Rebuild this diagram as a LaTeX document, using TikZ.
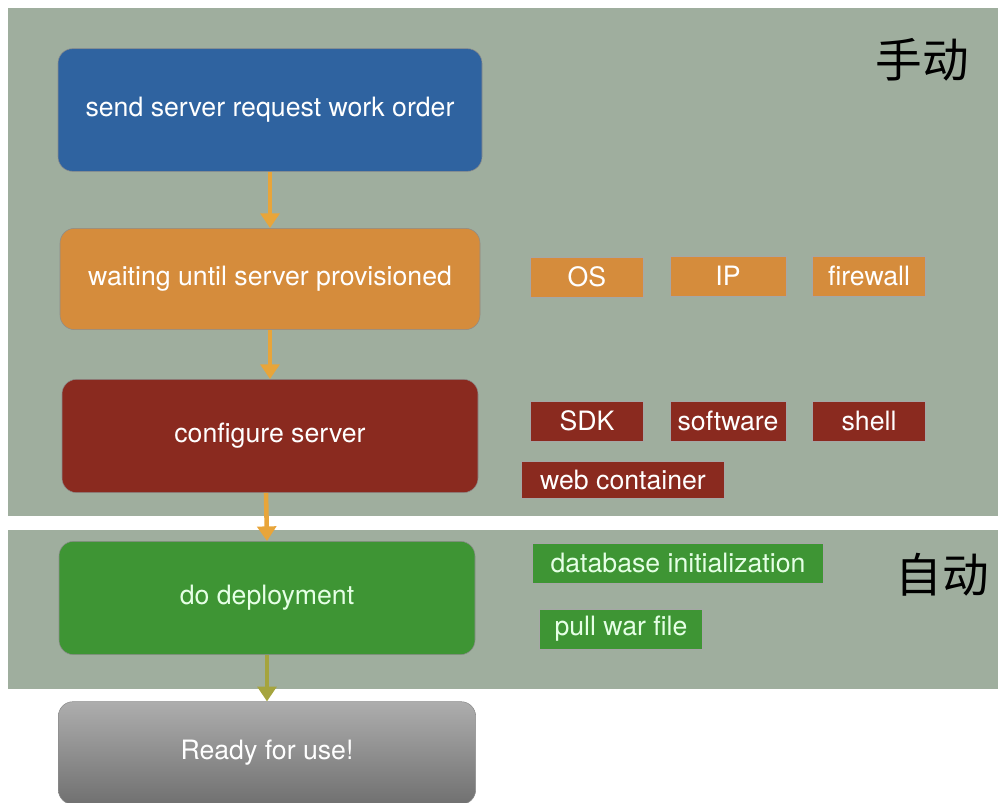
\documentclass[tikz,border=0pt]{standalone}
\usepackage{fontspec}
\setmainfont{TeX Gyre Heros}
\newfontfamily\cjk{Noto Sans CJK SC}
\usetikzlibrary{arrows.meta}

\definecolor{panelgray}{HTML}{9FAE9E}
\definecolor{stepblue}{HTML}{2F63A0}
\definecolor{steporange}{HTML}{D58C3C}
\definecolor{stepred}{HTML}{8A2A1F}
\definecolor{stepgreen}{HTML}{3E9534}
\definecolor{arrowor}{HTML}{E8A53A}
\definecolor{arrowol}{HTML}{A5A43E}

\tikzset{
 stepbox/.style={rounded corners=11pt, draw=black!45, line width=.4pt, text=white,
   minimum width=314pt, minimum height=80pt, font=\fontsize{20}{24}\selectfont},
 tagbox/.style={draw=black!35, line width=.3pt, text=white, minimum height=30pt,
   inner sep=0pt, font=\fontsize{20}{24}\selectfont},
 flow/.style={-{Triangle[length=11pt,width=14pt]}, line width=3.4pt, arrowor}
}

\begin{document}
\begin{tikzpicture}[x=0.75pt,y=-0.75pt]
\useasboundingbox (0,0) rectangle (998,802);
% panels
\fill[panelgray] (8,8) rectangle (998,516);
\fill[panelgray] (8,530) rectangle (998,689);
\node[font=\cjk\fontsize{35}{40}\selectfont] (manual) at (922,60) {手动};
\node[font=\cjk\fontsize{35}{40}\selectfont] (auto) at (942,575) {自动};

% main steps
\node[stepbox, fill=stepblue, minimum height=92pt, minimum width=318pt] (order) at (270,110) {send server request work order};
\node[stepbox, fill=steporange, minimum height=76pt, minimum width=315pt] (wait) at (270,279) {waiting until server provisioned};
\node[stepbox, fill=stepred, minimum height=85pt, minimum width=312pt] (config) at (270,436) {configure server};
\node[stepbox, fill=stepgreen, text=green!10!white, minimum height=85pt, minimum width=312pt] (deploy) at (267,598) {do deployment};
\node[stepbox, top color=black!32, bottom color=black!56, minimum height=77pt, minimum width=313pt] (ready) at (267,753) {Ready for use!};

% details
\node[tagbox, fill=steporange, minimum width=85pt] (os) at (587,277) {OS};
\node[tagbox, fill=steporange, minimum width=87pt] (ip) at (728,276) {IP};
\node[tagbox, fill=steporange, minimum width=85pt] (fw) at (869,276) {firewall};
\node[tagbox, fill=stepred, minimum width=85pt] (sdk) at (587,421) {SDK};
\node[tagbox, fill=stepred, minimum width=87pt] (soft) at (728,421) {software};
\node[tagbox, fill=stepred, minimum width=85pt] (shell) at (869,421) {shell};
\node[tagbox, fill=stepred, minimum width=152pt, minimum height=28pt] (web) at (623,480) {web container};
\node[tagbox, fill=stepgreen, text=green!10!white, minimum width=218pt] (db) at (678,563) {database initialization};
\node[tagbox, fill=stepgreen, text=green!10!white, minimum width=122pt] (war) at (621,629) {pull war file};

% flow
\draw[flow] (order.south) -- (wait.north);
\draw[flow] (wait.south) -- (config.north);
\draw[flow] ([xshift=-3pt]config.south) -- (deploy.north);
\draw[flow, arrowol] (deploy.south) -- (ready.north);
\end{tikzpicture}
\end{document}
